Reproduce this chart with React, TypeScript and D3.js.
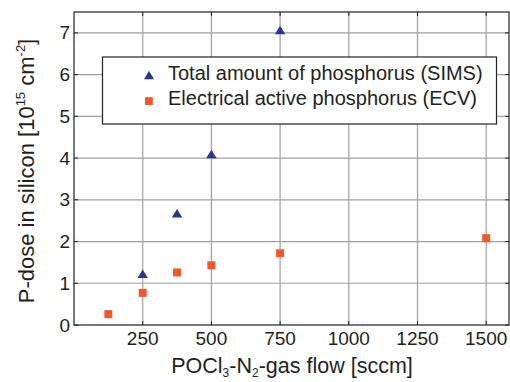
import React from "react";
import * as d3 from "d3";

const simsFlow = [250, 375, 500, 750];
const simsDose = [1.23, 2.68, 4.1, 7.07];
const ecvFlow = [125, 250, 375, 500, 750, 1500];
const ecvDose = [0.26, 0.77, 1.26, 1.43, 1.72, 2.08];
const xTicks = [250, 500, 750, 1000, 1250, 1500];
const yTicks = [0, 1, 2, 3, 4, 5, 6, 7];
const legendLabels = ["Total amount of phosphorus (SIMS)", "Electrical active phosphorus (ECV)"];

const W = 510, H = 382;
const L = 74, R = 509, T = 12, B = 325;
const FONT = "'Liberation Sans', Arial, sans-serif";
const BLUE = "#2b3592";
const ORANGE = "#f1592a";
const TXT = "#231f20";

function triPath(cx: number, cy: number, w: number, h: number) {
  return `M${cx - w / 2},${cy + h / 2}L${cx + w / 2},${cy + h / 2}L${cx},${cy - h / 2}Z`;
}

export default function App() {
  const x = d3.scaleLinear().domain([0, 1583]).range([L, R]);
  const y = d3.scaleLinear().domain([0, 7.5]).range([B, T]);
  return (
    <svg width={W} height={H} style={{ position: "absolute", left: 0, top: 0, background: "#fff" }}>
      <rect x={0} y={0} width={W} height={H} fill="#fff" />
      {xTicks.map((t) => (
        <line key={"gx" + t} x1={x(t)} x2={x(t)} y1={T} y2={B} stroke="#a0a0a0" strokeWidth={1.2} />
      ))}
      {yTicks.filter((t) => t > 0).map((t) => (
        <line key={"gy" + t} x1={L} x2={R} y1={y(t)} y2={y(t)} stroke="#a0a0a0" strokeWidth={1.2} />
      ))}
      {xTicks.map((t) => (
        <g key={"tx" + t}>
          <line x1={x(t)} x2={x(t)} y1={B} y2={B - 4} stroke="#222" />
          <line x1={x(t)} x2={x(t)} y1={T} y2={T + 4} stroke="#222" />
          <text x={x(t)} y={345} textAnchor="middle" fontFamily={FONT} fontSize={19} fill={TXT}>{t}</text>
        </g>
      ))}
      {yTicks.map((t) => (
        <g key={"ty" + t}>
          <line x1={L} x2={L + 4} y1={y(t)} y2={y(t)} stroke="#222" />
          <line x1={R} x2={R - 4} y1={y(t)} y2={y(t)} stroke="#222" />
          <text x={70} y={y(t) + 6.5} textAnchor="end" fontFamily={FONT} fontSize={19} fill={TXT}>{t}</text>
        </g>
      ))}
      <rect x={L} y={T} width={R - L} height={B - T} fill="none" stroke="#222" strokeWidth={1.2} />
      {simsFlow.map((f, i) => (
        <path key={"s" + i} d={triPath(x(f), y(simsDose[i]), 10.5, 8.5)} fill={BLUE} />
      ))}
      {ecvFlow.map((f, i) => (
        <rect key={"e" + i} x={x(f) - 4} y={y(ecvDose[i]) - 4} width={8} height={8} fill={ORANGE} />
      ))}
      <rect x={102.5} y={57} width={394} height={67} fill="#fff" stroke="#222" strokeWidth={1.2} />
      <path d={triPath(149, 75, 10, 8.5)} fill={BLUE} />
      <rect x={145} y={97.2} width={7.8} height={7.8} fill={ORANGE} />
      <text x={168} y={79.5} fontFamily={FONT} fontSize={20} fill={TXT}>{legendLabels[0]}</text>
      <text x={168} y={105} fontFamily={FONT} fontSize={20} fill={TXT}>{legendLabels[1]}</text>
      <text transform="translate(34,171) rotate(-90)" textAnchor="middle" fontFamily={FONT} fontSize={22} fill={TXT}>
        P-dose in silicon [10<tspan dy={-9} fontSize={13}>15</tspan><tspan dy={9}> cm</tspan><tspan dy={-9} fontSize={13}>-2</tspan><tspan dy={9}>]</tspan>
      </text>
      <text x={292} y={373} textAnchor="middle" fontFamily={FONT} fontSize={21.5} fill={TXT}>
        POCl<tspan dy={4} fontSize={12}>3</tspan><tspan dy={-4}>-N</tspan><tspan dy={4} fontSize={12}>2</tspan><tspan dy={-4}>-gas flow [sccm]</tspan>
      </text>
    </svg>
  );
}
